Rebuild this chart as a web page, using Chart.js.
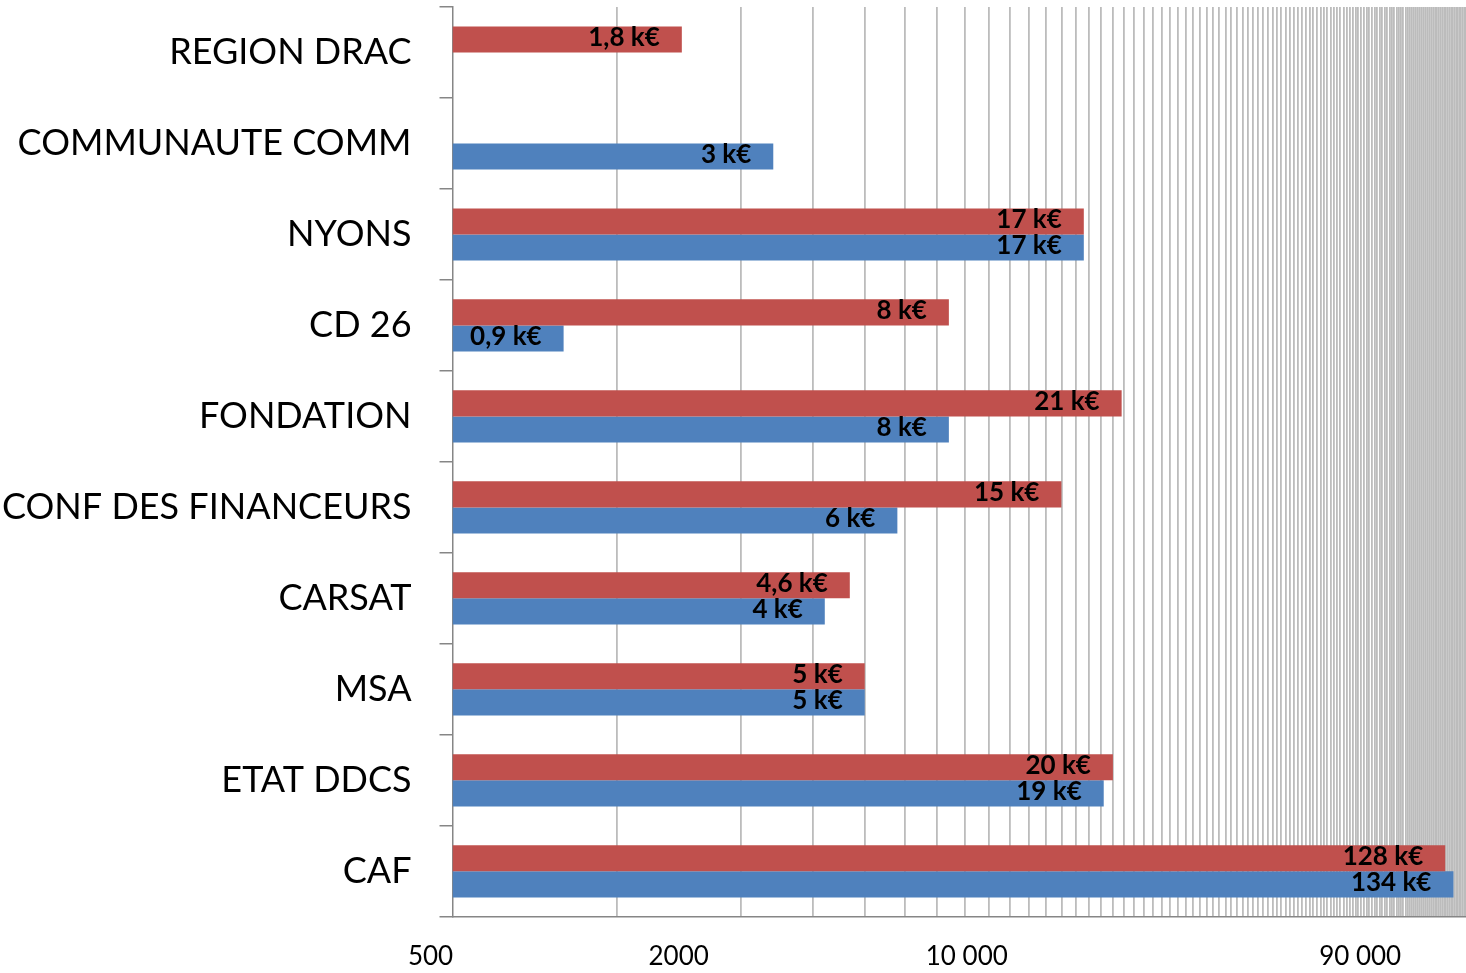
<!DOCTYPE html>
<html>
<head>
<meta charset="utf-8">
<script src="https://cdn.jsdelivr.net/npm/chart.js@4.4.0/dist/chart.umd.min.js"></script>
<style>
  html, body { margin: 0; padding: 0; background: #fff; }
  #wrap { width: 1466px; height: 973px; }
</style>
</head>
<body>
<div id="wrap"><canvas id="grafico" width="1466" height="973"></canvas></div>
<script>
// ====== DONNEES ======
const categories = ["REGION DRAC", "COMMUNAUTE COMM", "NYONS", "CD 26", "FONDATION",
  "CONF DES FINANCEURS", "CARSAT", "MSA", "ETAT DDCS", "CAF"];

const valeursRouge = [1800, null, 17000, 8000, 21000, 15000, 4600, 5000, 20000, 128000];
const valeursBleu  = [null, 3000, 17000, 930, 8000, 6000, 4000, 5000, 19000, 134000];

const etiquettesRouge = ["1,8 k€", "", "17 k€", "8 k€", "21 k€", "15 k€", "4,6 k€", "5 k€", "20 k€", "128 k€"];
const etiquettesBleu  = ["", "3 k€", "17 k€", "0,9 k€", "8 k€", "6 k€", "4 k€", "5 k€", "19 k€", "134 k€"];

// axe log : graduations tous les 1250, étiquettes seulement sur quelques valeurs
const axeMin = 500;
const axeMax = 143750;
const pasGrille = 1250;
const valeursTicks = [500, 2000, 10000, 90000];
const textesTicks  = ["500", "2000", "10 000", "90 000"];

const POLICE = "Lato, 'Open Sans', sans-serif";
const PAD_X = 24;   // espace axe -> étiquettes en bas
const PAD_Y = 28;   // espace étiquettes -> graduations à gauche

// ====== ETIQUETTES DES BARRES ======
const etiquettesBarres = {
  id: "etiquettesBarres",
  afterDatasetsDraw(chart) {
    const ctx = chart.ctx;
    ctx.save();
    ctx.font = "bold 26px " + POLICE;
    ctx.fillStyle = "#000";
    ctx.textAlign = "right";
    ctx.textBaseline = "middle";
    chart.data.datasets.forEach((ds, i) => {
      const meta = chart.getDatasetMeta(i);
      meta.data.forEach((barre, j) => {
        const txt = ds.etiquettes[j];
        if (!txt) return;
        ctx.fillText(txt, barre.x - 22, barre.y - 2);
      });
    });
    ctx.restore();
  }
};

// ====== GRAPHIQUE ======
new Chart(document.getElementById("grafico").getContext("2d"), {
  type: "bar",
  data: {
    labels: categories,
    datasets: [
      { data: valeursRouge, etiquettes: etiquettesRouge, backgroundColor: "#C0504D" },
      { data: valeursBleu, etiquettes: etiquettesBleu, backgroundColor: "#4F81BD" }
    ]
  },
  options: {
    indexAxis: "y",
    responsive: false,
    animation: false,
    categoryPercentage: 0.573,
    barPercentage: 1,
    layout: { padding: { left: 2, right: 0, top: 7, bottom: 1 } },
    plugins: { legend: { display: false }, tooltip: { enabled: false } },
    scales: {
      x: {
        type: "logarithmic",
        min: axeMin,
        max: axeMax,
        afterBuildTicks(scale) {
          const ticks = [];
          for (let v = pasGrille; v <= axeMax; v += pasGrille) ticks.push(v);
          valeursTicks.forEach(v => { if (!ticks.includes(v)) ticks.push(v); });
          ticks.sort((a, b) => a - b);
          scale.ticks = ticks.map(v => ({ value: v }));
        },
        afterFit(scale) {
          // chart.js compte le padding deux fois
          scale.paddingLeft = 0;
          scale.paddingRight = 0;
          scale.height -= PAD_X;
        },
        grid: {
          drawTicks: false,
          lineWidth: 1.8,
          color: c => (c.tick && c.tick.value % pasGrille === 0) ? "#BCBCBC" : "rgba(0,0,0,0)"
        },
        border: { color: "#868686", width: 1.5 },
        ticks: {
          autoSkip: false,
          maxRotation: 0,
          padding: PAD_X,
          labelOffset: -22,
          color: "#000",
          font: { family: POLICE, size: 26 },
          callback: v => {
            const k = valeursTicks.indexOf(v);
            return k >= 0 ? textesTicks[k] : "";
          }
        }
      },
      y: {
        afterFit(scale) {
          scale.paddingTop = 0;
          scale.paddingBottom = 0;
          scale.width -= PAD_Y;
        },
        grid: {
          offset: true,
          drawOnChartArea: false,
          tickLength: 13,
          color: "#868686",
          lineWidth: 1.5
        },
        border: { color: "#868686", width: 1.5 },
        ticks: {
          padding: PAD_Y,
          color: "#000",
          font: { family: POLICE, size: 36 }
        }
      }
    }
  },
  plugins: [etiquettesBarres]
});
</script>
</body>
</html>
